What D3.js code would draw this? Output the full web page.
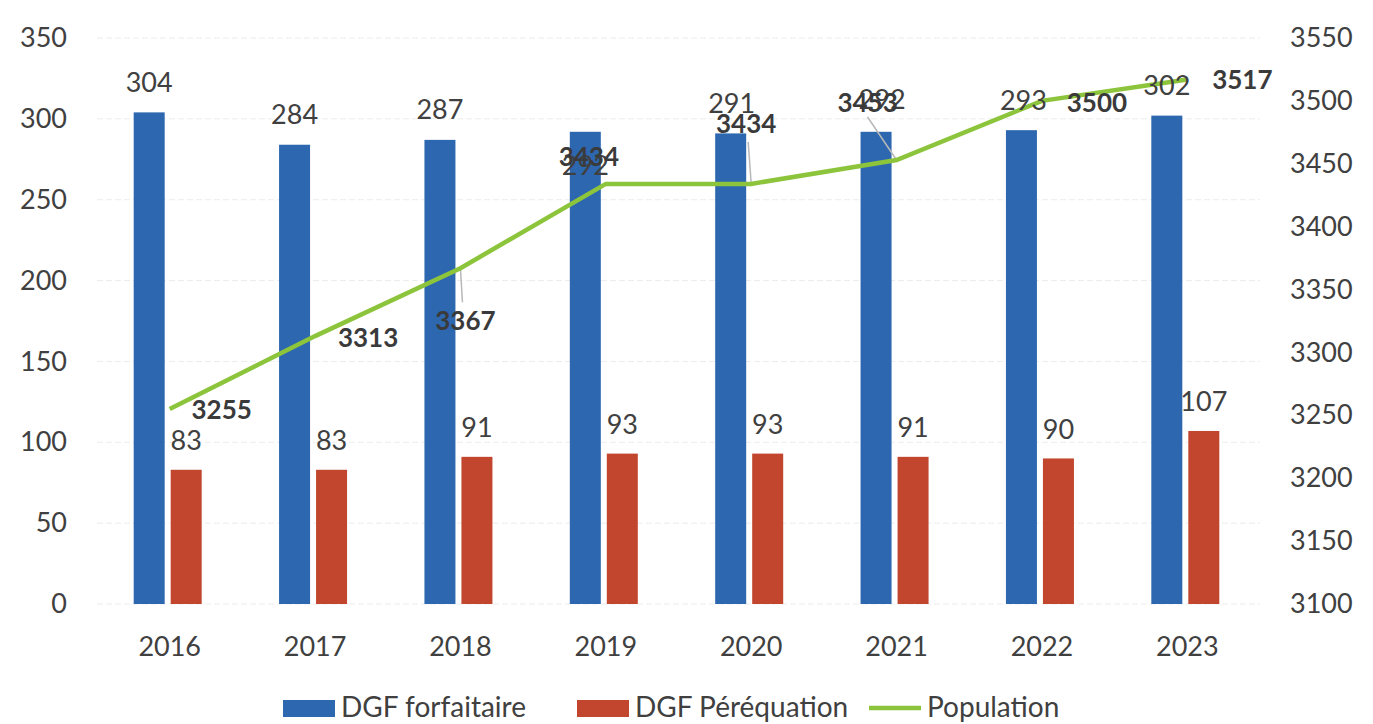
<!DOCTYPE html>
<html><head><meta charset="utf-8">
<script src="https://cdn.jsdelivr.net/npm/d3@7"></script>
<style>body{margin:0;background:#fff}svg{display:block}</style>
</head><body><svg id="c" width="1373" height="724"></svg>
<script>
const years = ["2016","2017","2018","2019","2020","2021","2022","2023"];
const forfaitaire = [304,284,287,292,291,292,293,302];
const perequation = [83,83,91,93,93,91,90,107];
const population = [3255,3313,3367,3434,3434,3453,3500,3517];
const leftTicks = [0,50,100,150,200,250,300,350];
const rightTicks = [3100,3150,3200,3250,3300,3350,3400,3450,3500,3550];
const seriesNames = ["DGF forfaitaire","DGF Péréquation","Population"];

// label layout (pixel offsets from the data point), separate from data
const popLabelOffset = [[52,1],[53,2],[5,53],[-17,-27],[-5,-60],[-29,-57],[55,2],[55,0]];
const forfLabelOffset = [[0,-30],[0,-30],[0,-30],[0,34],[1,-30],[6,-32],[2,-30],[0,-30]];
const leaders = [[2,2,34],[4,-3,-42],[5,-29,-43]]; // [index, dx, dy] line start relative to point

const W=1373,H=724, m={l:97,r:113,t:38,b:120};
const svg=d3.select("#c");
const font="Lato, 'Open Sans', sans-serif";
const x=d3.scaleBand().domain(years).range([m.l,W-m.r]);
const yL=d3.scaleLinear().domain([0,350]).range([604,38]);
const yR=d3.scaleLinear().domain([3100,3550]).range([604,38]);
const blue="#2d67b0", red="#c1462d", green="#8cc43c", txt="#404040";

// gridlines
svg.append("g").selectAll("line").data(leftTicks).join("line")
 .attr("x1",m.l).attr("x2",W-m.r).attr("y1",d=>yL(d)).attr("y2",d=>yL(d))
 .attr("stroke","#ececec").attr("stroke-width",1).attr("stroke-dasharray","6,3");

// axes
const aL=svg.append("g").attr("transform",`translate(${m.l},0)`)
 .call(d3.axisLeft(yL).tickValues(leftTicks).tickSize(0).tickPadding(30));
const aR=svg.append("g").attr("transform",`translate(${W-m.r},0)`)
 .call(d3.axisRight(yR).tickValues(rightTicks).tickFormat(d3.format("d")).tickSize(0).tickPadding(30));
const aX=svg.append("g").attr("transform",`translate(0,604)`)
 .call(d3.axisBottom(x).tickSize(0).tickPadding(33));
[aL,aR,aX].forEach(a=>{a.select(".domain").remove();
 a.selectAll("text").attr("font-family",font).attr("font-size",27).attr("fill",txt);});

const bw=31, gap=6;
const cx=d=>x(d)+x.bandwidth()/2;
svg.append("g").selectAll("rect").data(forfaitaire).join("rect")
 .attr("x",(d,i)=>cx(years[i])-gap/2-bw-2).attr("width",bw)
 .attr("y",d=>yL(d)).attr("height",d=>yL(0)-yL(d)).attr("fill",blue);
svg.append("g").selectAll("rect").data(perequation).join("rect")
 .attr("x",(d,i)=>cx(years[i])+gap/2-2).attr("width",bw)
 .attr("y",d=>yL(d)).attr("height",d=>yL(0)-yL(d)).attr("fill",red);

// leader lines
svg.append("g").selectAll("line").data(leaders).join("line")
 .attr("x1",d=>cx(years[d[0]])+d[1]).attr("y1",d=>yR(population[d[0]])+d[2])
 .attr("x2",d=>cx(years[d[0]])).attr("y2",d=>yR(population[d[0]]))
 .attr("stroke","#b8b8b8").attr("stroke-width",1.5);

// line
svg.append("path").datum(population)
 .attr("d",d3.line().x((d,i)=>cx(years[i])).y(d=>yR(d)))
 .attr("fill","none").attr("stroke",green).attr("stroke-width",4.5);

// bar labels
svg.append("g").selectAll("text").data(forfaitaire).join("text")
 .attr("x",(d,i)=>cx(years[i])-gap/2-bw/2-2+forfLabelOffset[i][0])
 .attr("y",(d,i)=>yL(d)+forfLabelOffset[i][1]).attr("dy","0.35em")
 .attr("text-anchor","middle").attr("font-family",font).attr("font-size",27).attr("fill",txt).text(d=>d);
svg.append("g").selectAll("text").data(perequation).join("text")
 .attr("x",(d,i)=>cx(years[i])+gap/2+bw/2-2)
 .attr("y",d=>yL(d)-29).attr("dy","0.35em")
 .attr("text-anchor","middle").attr("font-family",font).attr("font-size",27).attr("fill",txt).text(d=>d);
svg.append("g").selectAll("text").data(population).join("text")
 .attr("x",(d,i)=>cx(years[i])+popLabelOffset[i][0])
 .attr("y",(d,i)=>yR(d)+popLabelOffset[i][1]).attr("dy","0.35em")
 .attr("text-anchor","middle").attr("font-family",font).attr("font-size",26).attr("font-weight","bold").attr("fill","#3a3a3a").text(d=>d);

// legend
const lg=svg.append("g");
const items=[{x:283,c:blue,t:"rect"},{x:577,c:red,t:"rect"},{x:869,c:green,t:"line"}];
items.forEach((it,i)=>{
 if(it.t==="rect") lg.append("rect").attr("x",it.x).attr("y",700).attr("width",52).attr("height",17).attr("fill",it.c);
 else lg.append("line").attr("x1",it.x).attr("x2",it.x+52).attr("y1",708).attr("y2",708).attr("stroke",it.c).attr("stroke-width",4.5);
 lg.append("text").attr("x",it.x+58).attr("y",707).attr("dy","0.35em").attr("font-family",font).attr("font-size",28).attr("fill",txt).text(seriesNames[i]);
});
</script></body></html>
